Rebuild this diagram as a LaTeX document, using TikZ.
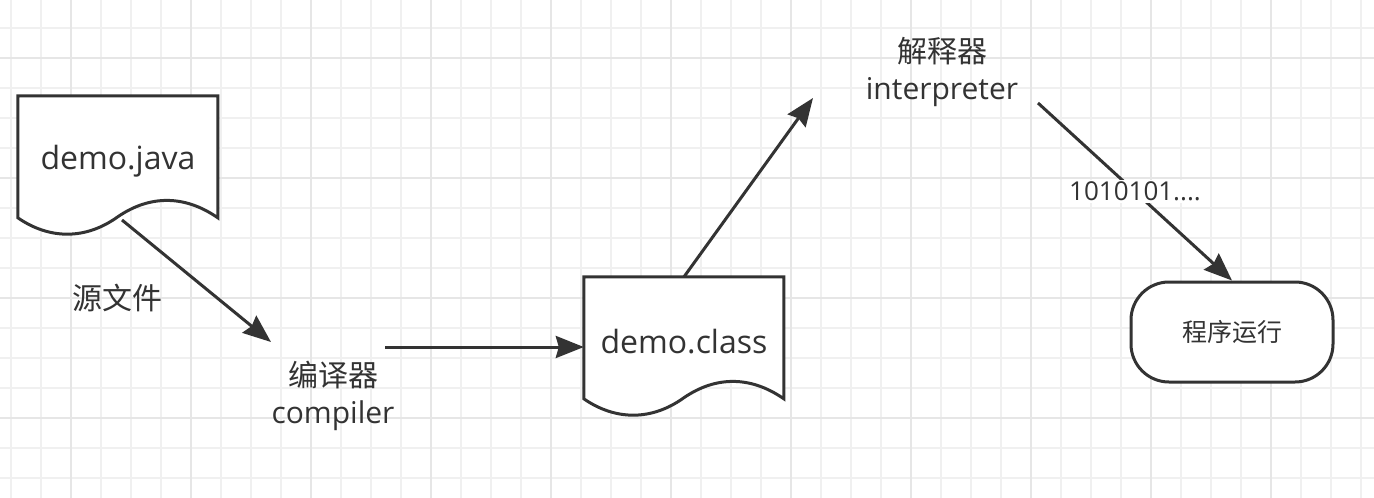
\documentclass[tikz,border=0pt]{standalone}
\usepackage{fontspec}
\setmainfont{Open Sans}
\newfontfamily\cjk{Noto Sans CJK SC}
\usetikzlibrary{arrows.meta}
\definecolor{ink}{HTML}{333333}
\definecolor{gridminor}{HTML}{F0F0F0}
\definecolor{gridmajor}{HTML}{E6E6E6}
\tikzset{
  minorline/.style={draw=gridminor, line width=1.2pt},
  majorline/.style={draw=gridmajor, line width=2pt},
  docline/.style={draw=ink, fill=white, line width=3pt, line join=miter},
  docu/.style={minimum width=200pt, minimum height=130pt, inner sep=0pt,
    text=ink, font=\fontsize{32}{38}\selectfont},
  lbl/.style={text=ink, inner sep=2pt, align=center,
    font=\fontsize{30}{37.5}\selectfont},
  term/.style={draw=ink, fill=white, line width=3pt, rounded corners=38pt,
    minimum width=202pt, minimum height=100pt, text=ink,
    font=\fontsize{25}{30}\selectfont\cjk},
  conn/.style={draw=ink, line width=3pt,
    -{Stealth[length=28pt,width=22pt,inset=3pt]}},
  bits/.style={fill=white, text=ink, inner sep=2pt,
    font=\fontsize{26}{30}\selectfont}
}
\begin{document}
\begin{tikzpicture}[x=1pt,y=-1pt]
	\useasboundingbox (0,0) rectangle (1374,498);
	\fill[white] (0,0) rectangle (1374,498);
	% background grid
	\foreach \gx in {11,41,...,1373} \draw[minorline] (\gx,0) -- (\gx,498);
	\foreach \gy in {28,58,...,478} \draw[minorline] (0,\gy) -- (1374,\gy);
	\foreach \gx in {71,191,...,1331} \draw[majorline] (\gx,0) -- (\gx,498);
	\foreach \gy in {58,178,...,418} \draw[majorline] (0,\gy) -- (1374,\gy);
	
	\node[docu] (java) at (118,161) {};
	\draw[docline, shift={(java.north west)}] (0,0) -- (200,0) -- (200,122)
		.. controls (167,99) and (132,99) .. (100,121)
		.. controls (68,144) and (32,144) .. (0,122) -- cycle;
	\node[docu] at (java) {demo.java};
	
	\node[docu] (class) at (684,342) {};
	\draw[docline, shift={(class.north west)}] (0,0) -- (200,0) -- (200,122)
		.. controls (167,99) and (132,99) .. (100,121)
		.. controls (68,144) and (32,144) .. (0,122) -- cycle;
	\node[docu] at (class) {demo.class};
	
	\node[lbl] (src) at (117,298) {\cjk 源文件};
	\node[lbl] (comp) at (333,396) {{\cjk 编译器}\\compiler};
	\node[lbl] (interp) at (942,72) {{\cjk 解释器}\\interpreter};
	\node[term] (run) at (1232,332) {程序运行};
	
	\coordinate (javaout) at (122,220);
	\coordinate (compin) at (271,342);
	\coordinate (compout) at (385,347);
	\coordinate (interpin) at (813,98);
	\coordinate (interpout) at (1038,103);
	
	\draw[conn] (javaout) -- (compin);
	\draw[conn] (compout) -- (class.west |- compout);
	\draw[conn] (class.north) -- (interpin);
	\draw[conn] (interpout) -- (run.north) node[bits, pos=.5] {1010101....};
	
\end{tikzpicture}
\end{document}
